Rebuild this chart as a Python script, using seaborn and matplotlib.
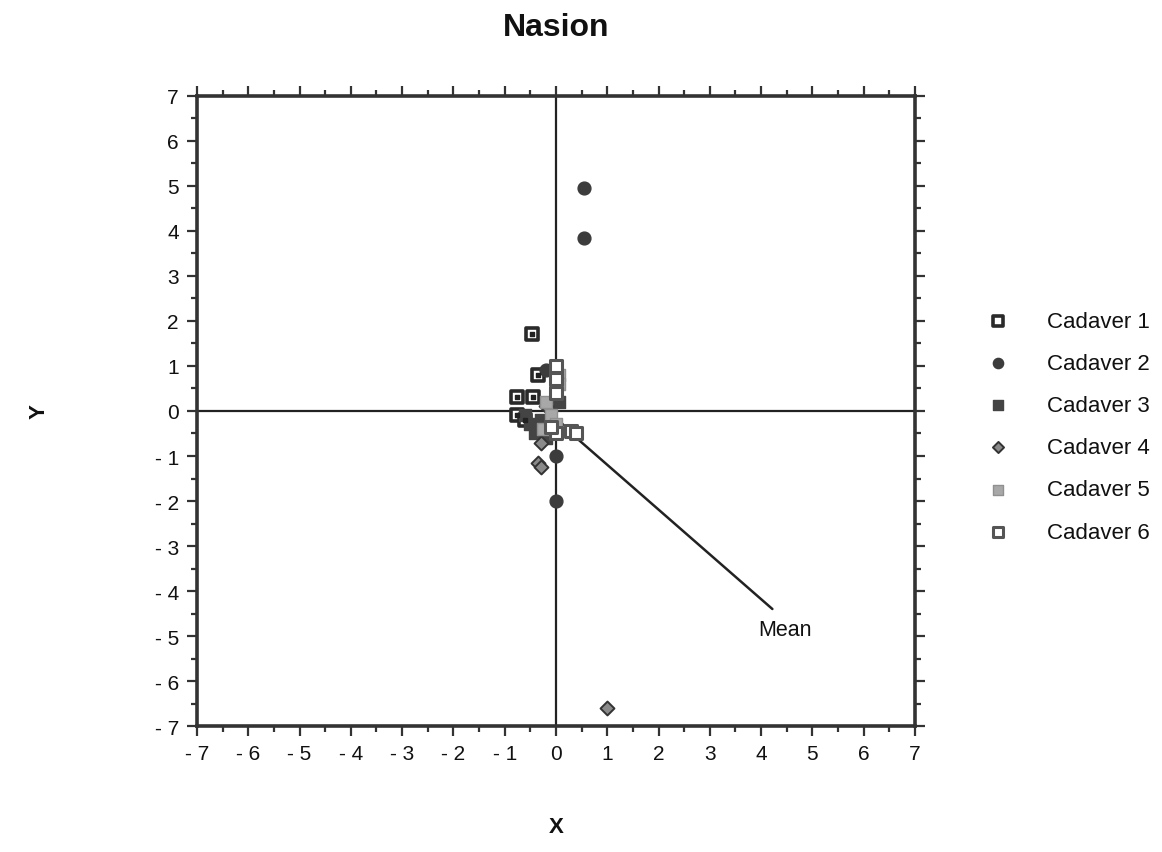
import pandas as pd
import numpy as np
import matplotlib.pyplot as plt
import seaborn as sns
from matplotlib.ticker import MultipleLocator, FixedLocator

sns.set_style('white')
plt.rcParams['font.family'] = ['Liberation Sans', 'DejaVu Sans']

# Nasion displacement per cadaver
cad1_x = [-0.47, -0.35, -0.75, -0.45, -0.75, -0.6]
cad1_y = [1.7, 0.8, 0.3, 0.3, -0.1, -0.2]
cad2_x = [0.55, 0.55, 0.0, 0.0, -0.2, 0.0, -0.05]
cad2_y = [4.95, 3.85, -1.0, -2.0, 0.9, 0.5, -0.3]
cad3_x = [-0.6, -0.5, -0.4, -0.3, 0.05, -0.2]
cad3_y = [-0.1, -0.3, -0.5, -0.2, 0.2, -0.6]
cad4_x = [1.0, -0.35, -0.3, -0.3, -0.2, 0.1]
cad4_y = [-6.6, -1.15, -1.25, -0.7, 0.1, -0.4]
cad5_x = [0.0, 0.05, 0.05, -0.1, -0.2, 0.0, -0.25]
cad5_y = [1.0, 0.8, 0.6, -0.1, 0.2, -0.3, -0.4]
cad6_x = [0.0, 0.0, 0.0, 0.3, 0.4, 0.0, -0.1]
cad6_y = [1.0, 0.7, 0.4, -0.45, -0.5, -0.5, -0.35]

mean_xy = (0.1, -0.3)
mean_label_xy = (4.22, -4.4)
ticks = list(range(-7, 8))
tick_labels = [f'- {abs(t)}' if t < 0 else str(t) for t in ticks]

rows = []
for i, (xs, ys) in enumerate([(cad1_x, cad1_y), (cad2_x, cad2_y), (cad3_x, cad3_y),
                              (cad4_x, cad4_y), (cad5_x, cad5_y), (cad6_x, cad6_y)]):
    for x, y in zip(xs, ys):
        rows.append({'cadaver': f'Cadaver {i + 1}', 'x': x, 'y': y})
df = pd.DataFrame(rows)

# marker look for each cadaver
estilos = {
    'Cadaver 1': dict(marker='s', facecolor='white', edgecolor='#2a2a2a', linewidth=2.6, s=70),
    'Cadaver 2': dict(marker='o', facecolor='#3c3c3c', edgecolor='#3c3c3c', linewidth=1, s=85),
    'Cadaver 3': dict(marker='s', facecolor='#444444', edgecolor='#444444', linewidth=1, s=70),
    'Cadaver 4': dict(marker='D', facecolor='#8a8a8a', edgecolor='#333333', linewidth=1.4, s=50),
    'Cadaver 5': dict(marker='s', facecolor='#a8a8a8', edgecolor='#909090', linewidth=1, s=70),
    'Cadaver 6': dict(marker='s', facecolor='white', edgecolor='#555555', linewidth=2.2, s=70),
}

fig = plt.figure(figsize=(11.62, 8.53), dpi=100)
ax = fig.add_axes([0.1695, 0.1477, 0.6179, 0.7386])

ax.axhline(0, color='#222222', lw=1.6, zorder=1)
ax.axvline(0, color='#222222', lw=1.6, zorder=1)

# linha da media
ax.plot([mean_xy[0], mean_label_xy[0]], [mean_xy[1], mean_label_xy[1]],
        color='#222222', lw=1.8, zorder=2)
ax.text(mean_label_xy[0] + 0.25, mean_label_xy[1] - 0.45, 'Mean', fontsize=15.5,
        ha='center', va='center', color='#111111')

for nome, est in estilos.items():
    d = df[df['cadaver'] == nome]
    sns.scatterplot(data=d, x='x', y='y', ax=ax, label=nome, zorder=3, **est)
    if nome == 'Cadaver 1':
        ax.scatter(d['x'], d['y'], marker='s', s=6, color='#222222', zorder=4)

ax.set_xlim(-7, 7)
ax.set_ylim(-7, 7)
ax.xaxis.set_major_locator(FixedLocator(ticks))
ax.yaxis.set_major_locator(FixedLocator(ticks))
ax.set_xticklabels(tick_labels, fontsize=15, color='#111111')
ax.set_yticklabels(tick_labels, fontsize=15, color='#111111')
ax.xaxis.set_minor_locator(MultipleLocator(0.5))
ax.yaxis.set_minor_locator(MultipleLocator(0.5))
ax.tick_params(which='both', direction='out', top=True, right=True,
               bottom=True, left=True, color='#333333', width=1.6)
ax.tick_params(which='major', length=7, pad=6)
ax.tick_params(which='minor', length=4)
ax.tick_params(axis='x', labeltop=False)
ax.tick_params(axis='y', labelright=False)
for sp in ax.spines.values():
    sp.set_linewidth(2.6)
    sp.set_color('#333333')

ax.set_xlabel('X', fontsize=16, fontweight='bold', labelpad=38, color='#111111')
ax.set_ylabel('Y', fontsize=16, fontweight='bold', labelpad=76, color='#111111')
fig.text(0.4785, 0.967, 'Nasion', fontsize=23, fontweight='bold', ha='center', va='center',
         color='#111111')

leg = ax.legend(loc='center left', bbox_to_anchor=(1.057, 0.475), frameon=False,
                fontsize=16, labelspacing=0.95, handletextpad=1.2, markerscale=0.8)
for t in leg.get_texts():
    t.set_color('#111111')

plt.savefig('out.png', dpi=100)
